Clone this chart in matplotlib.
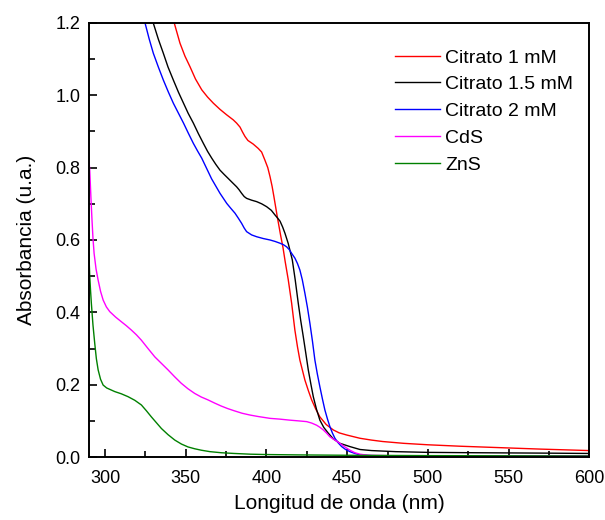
import matplotlib
matplotlib.use("Agg")
import matplotlib.pyplot as plt
from matplotlib.ticker import MultipleLocator, FormatStrFormatter

plt.rcParams['font.family'] = ['Liberation Sans', 'DejaVu Sans']

# Absorption spectra (wavelength in nm, absorbance in a.u.)
citrato1_x = [338, 342.9, 346.4, 349.5, 352.6, 356, 359.9, 363.5, 367.1, 371.2, 375.3, 379.4,
              381.5, 383.6, 385.2, 386.7, 388.5, 391.8, 394.9, 397, 399, 400.8, 402.2, 403.5,
              404.6, 406.7, 408.8, 410.2, 411.6, 413.5, 415.6, 417.6, 419.2, 420.7, 423.8, 426,
              428, 430.5, 433.1, 437, 441.4, 445, 449.7, 457.9, 465, 472, 485, 500, 520, 545,
              570, 600]
citrato1_y = [1.276, 1.199, 1.144, 1.108, 1.079, 1.045, 1.015, 0.995, 0.978, 0.961, 0.946,
              0.932, 0.923, 0.912, 0.898, 0.886, 0.875, 0.865, 0.853, 0.843, 0.821, 0.80, 0.775,
              0.748, 0.72, 0.664, 0.612, 0.58, 0.54, 0.49, 0.425, 0.351, 0.305, 0.268, 0.213,
              0.183, 0.158, 0.133, 0.111, 0.09, 0.075, 0.067, 0.061, 0.052, 0.047, 0.043, 0.038,
              0.034, 0.030, 0.026, 0.022, 0.018]

citrato15_x = [325, 329.9, 333, 336.1, 339, 342.3, 345.5, 348.6, 351.5, 354.7, 357.8, 360.9,
               363.5, 366.1, 368.6, 371.2, 373.8, 376.3, 379, 381.5, 383, 384.6, 386.2, 387.7,
               390.8, 393.9, 397, 400.1, 403, 405.3, 407, 408.4, 410, 411.5, 413.5, 416, 417.8,
               419.7, 421.2, 422.8, 424.4, 425.9, 427.5, 429, 431, 433.1, 435.5, 438.3, 441.5,
               445.5, 451.7, 457.9, 465, 480, 500, 530, 570, 600]
citrato15_y = [1.27, 1.199, 1.155, 1.116, 1.078, 1.042, 1.008, 0.978, 0.950, 0.923, 0.894,
               0.867, 0.845, 0.826, 0.809, 0.793, 0.781, 0.770, 0.758, 0.747, 0.739, 0.729,
               0.720, 0.715, 0.710, 0.706, 0.70, 0.692, 0.682, 0.669, 0.66, 0.652, 0.636, 0.618,
               0.59, 0.545, 0.49, 0.425, 0.378, 0.333, 0.286, 0.241, 0.202, 0.167, 0.132, 0.102,
               0.082, 0.066, 0.050, 0.038, 0.029, 0.021, 0.018, 0.015, 0.013, 0.012, 0.011,
               0.010]

citrato2_x = [321, 324.8, 327.3, 329.9, 333, 336.1, 339.2, 342.3, 345.5, 348.6, 351.6, 354.7,
              357.3, 359.9, 363, 366, 368.6, 371.2, 373.3, 375.4, 378, 380.5, 382.6, 384.6,
              386.2, 387.7, 390.8, 393.9, 398, 402.2, 405.3, 408.4, 410.5, 412.5, 414.2, 415.6,
              417.6, 419.2, 420.7, 422.2, 423.8, 425.4, 426.9, 428.5, 430, 431.5, 433.1, 434.7,
              436.2, 437.8, 439.3, 440.9, 442.4, 444.5, 446.6, 449, 451.7, 454.8, 457.9, 465,
              480, 600]
citrato2_y = [1.26, 1.199, 1.156, 1.116, 1.078, 1.042, 1.009, 0.978, 0.950, 0.923, 0.895,
              0.867, 0.846, 0.826, 0.797, 0.769, 0.749, 0.729, 0.715, 0.701, 0.687, 0.674, 0.66,
              0.646, 0.633, 0.623, 0.614, 0.609, 0.604, 0.600, 0.596, 0.591, 0.587, 0.581,
              0.573, 0.563, 0.550, 0.535, 0.517, 0.49, 0.453, 0.413, 0.37, 0.32, 0.268, 0.23,
              0.194, 0.16, 0.13, 0.105, 0.084, 0.066, 0.052, 0.039, 0.029, 0.021, 0.015, 0.010,
              0.006, 0.004, 0.003, 0.003]

cds_x = [290, 290.5, 291.2, 291.9, 292.5, 293.2, 294.4, 295.7, 297.2, 298.8, 300.8, 302.9,
         306.5, 310.1, 313.2, 316.3, 319.4, 322.5, 326.6, 330.8, 334.9, 339, 343.1, 347.2,
         351.3, 355.5, 359.6, 363.8, 368, 372, 376, 380, 385, 390, 395, 402.2, 408, 414.6,
         420, 424.9, 428, 431.1, 433.2, 435.2, 437.3, 439.3, 442.4, 445.5, 448.6, 451.7,
         454.8, 457.9, 463, 475, 500, 600]
cds_y = [0.82, 0.793, 0.72, 0.655, 0.605, 0.563, 0.52, 0.489, 0.458, 0.434, 0.415, 0.402,
         0.387, 0.374, 0.363, 0.351, 0.338, 0.323, 0.30, 0.277, 0.259, 0.241, 0.222, 0.204,
         0.189, 0.176, 0.166, 0.158, 0.149, 0.141, 0.134, 0.128, 0.121, 0.116, 0.112, 0.107,
         0.105, 0.102, 0.100, 0.098, 0.094, 0.088, 0.082, 0.075, 0.066, 0.056, 0.047, 0.038,
         0.028, 0.019, 0.012, 0.008, 0.005, 0.004, 0.003, 0.003]

zns_x = [290, 290.5, 291, 291.5, 292.5, 293.6, 294.6, 295.7, 297.2, 298.8, 301, 303.5, 306,
         310, 314.2, 318.4, 322.5, 325.6, 328.7, 331.8, 334.9, 339, 343.2, 347.3, 351.4,
         355.5, 359.6, 365, 372, 380, 390, 400, 420, 450, 500, 600]
zns_y = [0.56, 0.50, 0.46, 0.425, 0.365, 0.314, 0.272, 0.241, 0.215, 0.199, 0.191, 0.186,
         0.181, 0.175, 0.167, 0.157, 0.144, 0.128, 0.111, 0.095, 0.079, 0.062, 0.047, 0.036,
         0.028, 0.023, 0.019, 0.015, 0.012, 0.010, 0.008, 0.007, 0.006, 0.005, 0.004, 0.003]

fig = plt.figure(figsize=(6.05, 5.2), dpi=100)
ax = fig.add_axes([0.147, 0.121, 0.827, 0.835])

lw = 1.0
ax.plot(citrato1_x, citrato1_y, color='#ff0000', lw=lw, label='Citrato 1 mM')
ax.plot(citrato15_x, citrato15_y, color='#000000', lw=lw, label='Citrato 1.5 mM')
ax.plot(citrato2_x, citrato2_y, color='#0000ff', lw=lw, label='Citrato 2 mM')
ax.plot(cds_x, cds_y, color='#ff00ff', lw=lw, label='CdS')
ax.plot(zns_x, zns_y, color='#008000', lw=lw, label='ZnS')

ax.set_xlim(290, 600)
ax.set_ylim(0, 1.2)
ax.xaxis.set_major_locator(MultipleLocator(50))
ax.xaxis.set_minor_locator(MultipleLocator(25))
ax.yaxis.set_major_locator(MultipleLocator(0.2))
ax.yaxis.set_minor_locator(MultipleLocator(0.1))
ax.yaxis.set_major_formatter(FormatStrFormatter('%.1f'))

ax.tick_params(which='both', direction='in', top=False, right=False, width=1.2,
               labelsize=13, colors='black')
ax.tick_params(which='major', length=6)
ax.tick_params(axis='x', which='major', pad=9)
ax.tick_params(axis='y', which='major', pad=6)
ax.tick_params(which='minor', length=4)
for s in ax.spines.values():
    s.set_linewidth(1.4)

ax.set_xlabel('Longitud de onda (nm)', fontsize=15, labelpad=5)
ax.set_ylabel('Absorbancia (u.a.)', fontsize=15, labelpad=14)

ax.legend(loc='upper left', frameon=False, fontsize=14, handlelength=2.3,
          handletextpad=0.3, labelspacing=0.47, borderaxespad=0,
          bbox_to_anchor=(0.596, 0.958))

fig.savefig('out.png', dpi=100)
